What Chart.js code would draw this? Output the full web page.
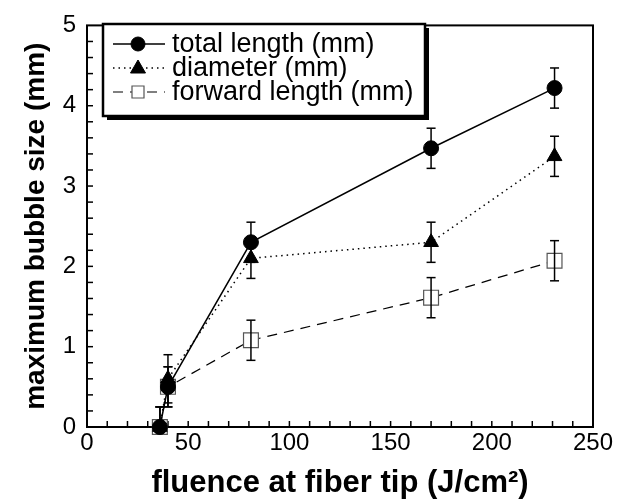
<!DOCTYPE html>
<html><head><meta charset="utf-8">
<script src="https://cdn.jsdelivr.net/npm/chart.js@4/dist/chart.umd.min.js"></script>
<style>html,body{margin:0;padding:0;background:#fff}</style>
</head><body>
<canvas id="c" width="618" height="503"></canvas>
<script>
// ---- data ----
const fluence = [36, 40, 81, 170, 231];
const totalLength = [0, 0.5, 2.3, 3.47, 4.22];
const totalErr = [0.25, 0.25, 0.25, 0.25, 0.25];
const diameter = [0, 0.6, 2.1, 2.3, 3.37];
const diameterErr = [0.25, 0.3, 0.25, 0.25, 0.25];
const forwardLength = [0, 0.5, 1.08, 1.61, 2.07];
const forwardErr = [0.25, 0.25, 0.25, 0.25, 0.25];
const seriesLabels = ['total length (mm)', 'diameter (mm)', 'forward length (mm)'];
const xTickValues = [0, 50, 100, 150, 200, 250];
const yTickValues = [0, 1, 2, 3, 4, 5];
const xTitle = 'fluence at fiber tip (J/cm²)';
const yTitle = 'maximum bubble size (mm)';

const FONT = "'Liberation Sans', Arial, Helvetica, sans-serif";
const toPts = ys => fluence.map((x, i) => ({x: x, y: ys[i]}));

const datasets = [
  {label: seriesLabels[0], data: toPts(totalLength), err: totalErr,
   borderColor: '#000', borderWidth: 1.5, pointStyle: 'circle', pointRadius: 7.5,
   pointBackgroundColor: '#000', pointBorderColor: '#000', pointBorderWidth: 1, clip: false},
  {label: seriesLabels[1], data: toPts(diameter), err: diameterErr,
   borderColor: '#000', borderWidth: 1.5, borderDash: [1.5, 4], pointStyle: 'triangle', pointRadius: 8.5,
   pointBackgroundColor: '#000', pointBorderColor: '#000', pointBorderWidth: 1, clip: false},
  {label: seriesLabels[2], data: toPts(forwardLength), err: forwardErr,
   borderColor: '#000', borderWidth: 1.2, borderDash: [10, 7], pointStyle: 'rect', pointRadius: 10.5,
   pointBackgroundColor: '#fff', pointBorderColor: '#555', pointBorderWidth: 1.2, clip: false}
];

const framePlugin = {
  id: 'frame',
  beforeDatasetsDraw(chart) {
    const {ctx, chartArea: a, scales: {x, y}} = chart;
    ctx.save();
    ctx.strokeStyle = '#000';
    ctx.lineWidth = 1.5;
    for (let v = 10; v < 250; v += 10) {
      const px = x.getPixelForValue(v);
      ctx.beginPath(); ctx.moveTo(px, a.bottom); ctx.lineTo(px, a.bottom - 6); ctx.stroke();
    }
    for (let k = 1; k < 25; k++) {
      const py = y.getPixelForValue(k * 0.2);
      ctx.beginPath(); ctx.moveTo(a.left, py); ctx.lineTo(a.left + 6, py); ctx.stroke();
    }
    ctx.lineWidth = 2;
    ctx.strokeRect(a.left, a.top, a.right - a.left, a.bottom - a.top);
    ctx.restore();
  }
};

const errorBars = {
  id: 'errorBars',
  afterDatasetsDraw(chart) {
    const {ctx, chartArea: a, scales: {x, y}} = chart;
    ctx.save();
    ctx.strokeStyle = '#000';
    ctx.lineWidth = 1.5;
    chart.data.datasets.forEach(ds => {
      ds.data.forEach((p, i) => {
        const e = ds.err[i];
        const px = x.getPixelForValue(p.x);
        const top = y.getPixelForValue(p.y + e);
        let bot = y.getPixelForValue(p.y - e);
        let capBot = true;
        if (bot > a.bottom) { bot = a.bottom; capBot = false; }
        ctx.beginPath(); ctx.moveTo(px, top); ctx.lineTo(px, bot); ctx.stroke();
        ctx.beginPath(); ctx.moveTo(px - 4.5, top); ctx.lineTo(px + 4.5, top); ctx.stroke();
        if (capBot) { ctx.beginPath(); ctx.moveTo(px - 4.5, bot); ctx.lineTo(px + 4.5, bot); ctx.stroke(); }
      });
    });
    ctx.restore();
  }
};

const legendBox = {
  id: 'legendBox',
  afterDraw(chart) {
    const ctx = chart.ctx;
    const L = 103, T = 24, W = 322, H = 92;
    ctx.save();
    ctx.fillStyle = '#fff';
    ctx.fillRect(L, T, W, H);
    ctx.fillStyle = '#000';
    ctx.fillRect(L + 4, T + H, W, 4);
    ctx.fillRect(L + W, T + 4, 4, H);
    ctx.strokeStyle = '#000';
    ctx.lineWidth = 2.5;
    ctx.strokeRect(L, T, W, H);
    const rows = [44, 68, 92];
    chart.data.datasets.forEach((ds, i) => {
      const ry = rows[i];
      ctx.strokeStyle = '#000';
      ctx.lineWidth = ds.borderWidth;
      ctx.setLineDash(ds.borderDash || []);
      ctx.beginPath(); ctx.moveTo(113, ry); ctx.lineTo(165, ry); ctx.stroke();
      ctx.setLineDash([]);
      const cx = 138;
      ctx.fillStyle = ds.pointBackgroundColor;
      ctx.strokeStyle = ds.pointBorderColor;
      ctx.lineWidth = ds.pointBorderWidth;
      ctx.beginPath();
      if (ds.pointStyle === 'circle') {
        ctx.arc(cx, ry, 7, 0, Math.PI * 2);
      } else if (ds.pointStyle === 'triangle') {
        ctx.moveTo(cx, ry - 8); ctx.lineTo(cx + 7.5, ry + 5); ctx.lineTo(cx - 7.5, ry + 5); ctx.closePath();
      } else {
        ctx.rect(cx - 6, ry - 6, 12, 12);
      }
      ctx.fill(); ctx.stroke();
      ctx.fillStyle = '#000';
      ctx.font = '27px ' + FONT;
      ctx.textBaseline = 'middle';
      ctx.textAlign = 'left';
      ctx.fillText(ds.label, 172, ry + 1);
    });
    ctx.restore();
  }
};

new Chart(document.getElementById('c'), {
  type: 'line',
  data: {datasets: datasets},
  options: {
    responsive: false,
    animation: false,
    layout: {padding: {top: 20, right: 25, left: 0, bottom: 0}},
    plugins: {legend: {display: false}, tooltip: {enabled: false}},
    elements: {line: {tension: 0}},
    scales: {
      x: {
        type: 'linear', min: 0, max: 250,
        afterBuildTicks: s => { s.ticks = xTickValues.map(v => ({value: v})); },
        afterFit: s => { s.height = 76; },
        grid: {display: false, drawTicks: false},
        border: {display: false},
        ticks: {font: {family: FONT, size: 24}, color: '#000', padding: 2, maxRotation: 0, autoSkip: false},
        title: {display: true, text: xTitle, color: '#000',
                font: {family: FONT, size: 31, weight: 'bold'}, padding: {top: 0, bottom: 1}}
      },
      y: {
        type: 'linear', min: 0, max: 5,
        afterBuildTicks: s => { s.ticks = yTickValues.map(v => ({value: v})); },
        afterFit: s => { s.width = 87; },
        grid: {display: false, drawTicks: false},
        border: {display: false},
        ticks: {font: {family: FONT, size: 24}, color: '#000', padding: 11, autoSkip: false},
        title: {display: true, text: yTitle, color: '#000',
                font: {family: FONT, size: 28, weight: 'bold'}, padding: {top: 19, bottom: 0}}
      }
    }
  },
  plugins: [framePlugin, errorBars, legendBox]
});
</script>
</body></html>
